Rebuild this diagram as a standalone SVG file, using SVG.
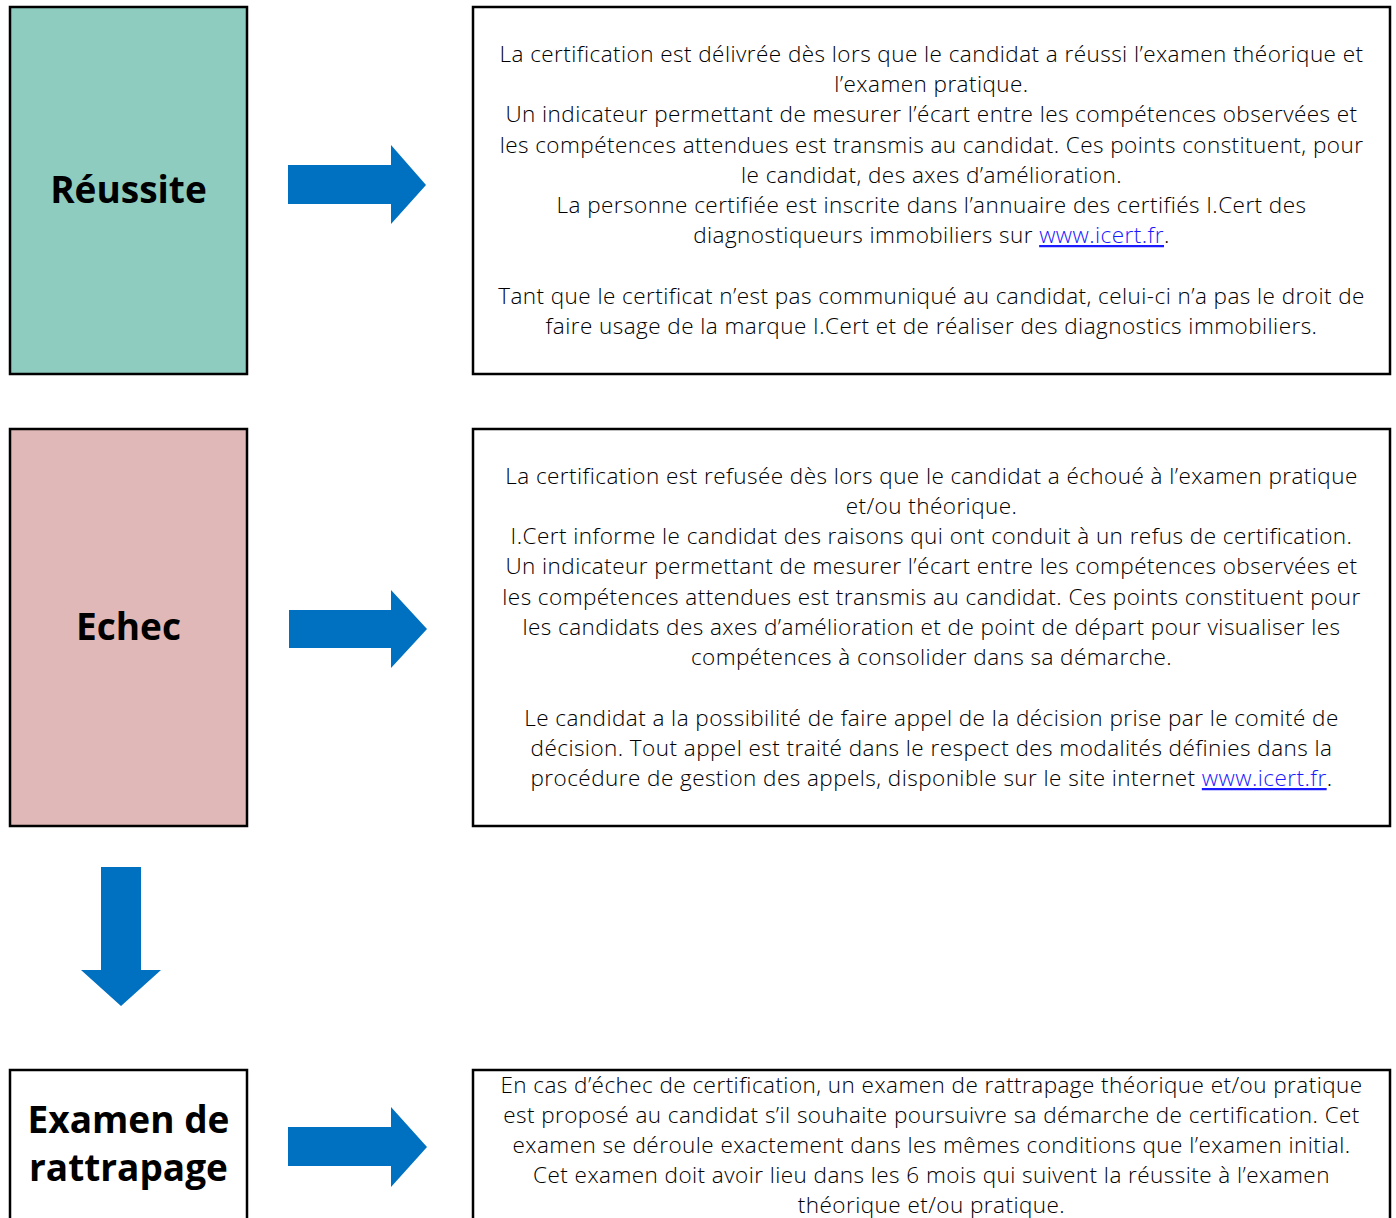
<svg xmlns="http://www.w3.org/2000/svg" width="1396" height="1218" viewBox="0 0 1396 1218">
<style>
.box{stroke:#000;stroke-width:2.5}
.title{font-family:"Open Sans","Noto Sans",sans-serif;font-weight:700;font-size:37px;fill:#000;text-anchor:middle}
.body{font-family:"Open Sans","Noto Sans",sans-serif;font-size:22.5px;font-weight:300;letter-spacing:0.45px;fill:#000;text-anchor:middle}
.link{fill:#1a1aff;text-decoration:underline}
.arrow{fill:#0070C0}
</style>
<rect width="1396" height="1218" fill="#fff"/>
<g id="reussite">
<rect class="box" x="10" y="7" width="237" height="367" fill="#8ECCC0"/>
<text class="title" x="128.5" y="203">Réussite</text>
</g>
<g id="reussite-detail">
<rect class="box" x="473" y="7" width="917" height="367" fill="#fff"/>
<text class="body" x="931.5" y="62">La certification est délivrée dès lors que le candidat a réussi l’examen théorique et</text>
<text class="body" x="931.5" y="92">l’examen pratique.</text>
<text class="body" x="931.5" y="122">Un indicateur permettant de mesurer l’écart entre les compétences observées et</text>
<text class="body" x="931.5" y="153">les compétences attendues est transmis au candidat. Ces points constituent, pour</text>
<text class="body" x="931.5" y="183">le candidat, des axes d’amélioration.</text>
<text class="body" x="931.5" y="213">La personne certifiée est inscrite dans l’annuaire des certifiés I.Cert des</text>
<text class="body" x="931.5" y="243">diagnostiqueurs immobiliers sur <tspan class="link">www.icert.fr</tspan>.</text>
<text class="body" x="931.5" y="304">Tant que le certificat n’est pas communiqué au candidat, celui-ci n’a pas le droit de</text>
<text class="body" x="931.5" y="334">faire usage de la marque I.Cert et de réaliser des diagnostics immobiliers.</text>
</g>
<g id="echec">
<rect class="box" x="10" y="429" width="237" height="397" fill="#E0B8B7"/>
<text class="title" x="128.5" y="640">Echec</text>
</g>
<g id="echec-detail">
<rect class="box" x="473" y="429" width="917" height="397" fill="#fff"/>
<text class="body" x="931.5" y="484">La certification est refusée dès lors que le candidat a échoué à l’examen pratique</text>
<text class="body" x="931.5" y="514">et/ou théorique.</text>
<text class="body" x="931.5" y="544">I.Cert informe le candidat des raisons qui ont conduit à un refus de certification.</text>
<text class="body" x="931.5" y="574">Un indicateur permettant de mesurer l’écart entre les compétences observées et</text>
<text class="body" x="931.5" y="605">les compétences attendues est transmis au candidat. Ces points constituent pour</text>
<text class="body" x="931.5" y="635">les candidats des axes d’amélioration et de point de départ pour visualiser les</text>
<text class="body" x="931.5" y="665">compétences à consolider dans sa démarche.</text>
<text class="body" x="931.5" y="726">Le candidat a la possibilité de faire appel de la décision prise par le comité de</text>
<text class="body" x="931.5" y="756">décision. Tout appel est traité dans le respect des modalités définies dans la</text>
<text class="body" x="931.5" y="786">procédure de gestion des appels, disponible sur le site internet <tspan class="link">www.icert.fr</tspan>.</text>
</g>
<g id="rattrapage">
<rect class="box" x="10" y="1070" width="237" height="200" fill="#fff"/>
<text class="title" x="128.5" y="1133">Examen de</text>
<text class="title" x="128.5" y="1181">rattrapage</text>
</g>
<g id="rattrapage-detail">
<rect class="box" x="473" y="1070" width="917" height="200" fill="#fff"/>
<text class="body" x="931.5" y="1093">En cas d’échec de certification, un examen de rattrapage théorique et/ou pratique</text>
<text class="body" x="931.5" y="1123">est proposé au candidat s’il souhaite poursuivre sa démarche de certification. Cet</text>
<text class="body" x="931.5" y="1153">examen se déroule exactement dans les mêmes conditions que l’examen initial.</text>
<text class="body" x="931.5" y="1183">Cet examen doit avoir lieu dans les 6 mois qui suivent la réussite à l’examen</text>
<text class="body" x="931.5" y="1213">théorique et/ou pratique.</text>
</g>
<g id="connectors">
<path class="arrow" d="M288,165 H391 V145 L426,185 L391,224 V204 H288 Z"/>
<path class="arrow" d="M289,610 H391 V590 L427,629 L391,668 V648 H289 Z"/>
<path class="arrow" d="M101,867 H141 V970 H161 L121,1006 L81,970 H101 Z"/>
<path class="arrow" d="M288,1127 H391 V1107 L427,1147 L391,1187 V1166 H288 Z"/>
</g>
</svg>
